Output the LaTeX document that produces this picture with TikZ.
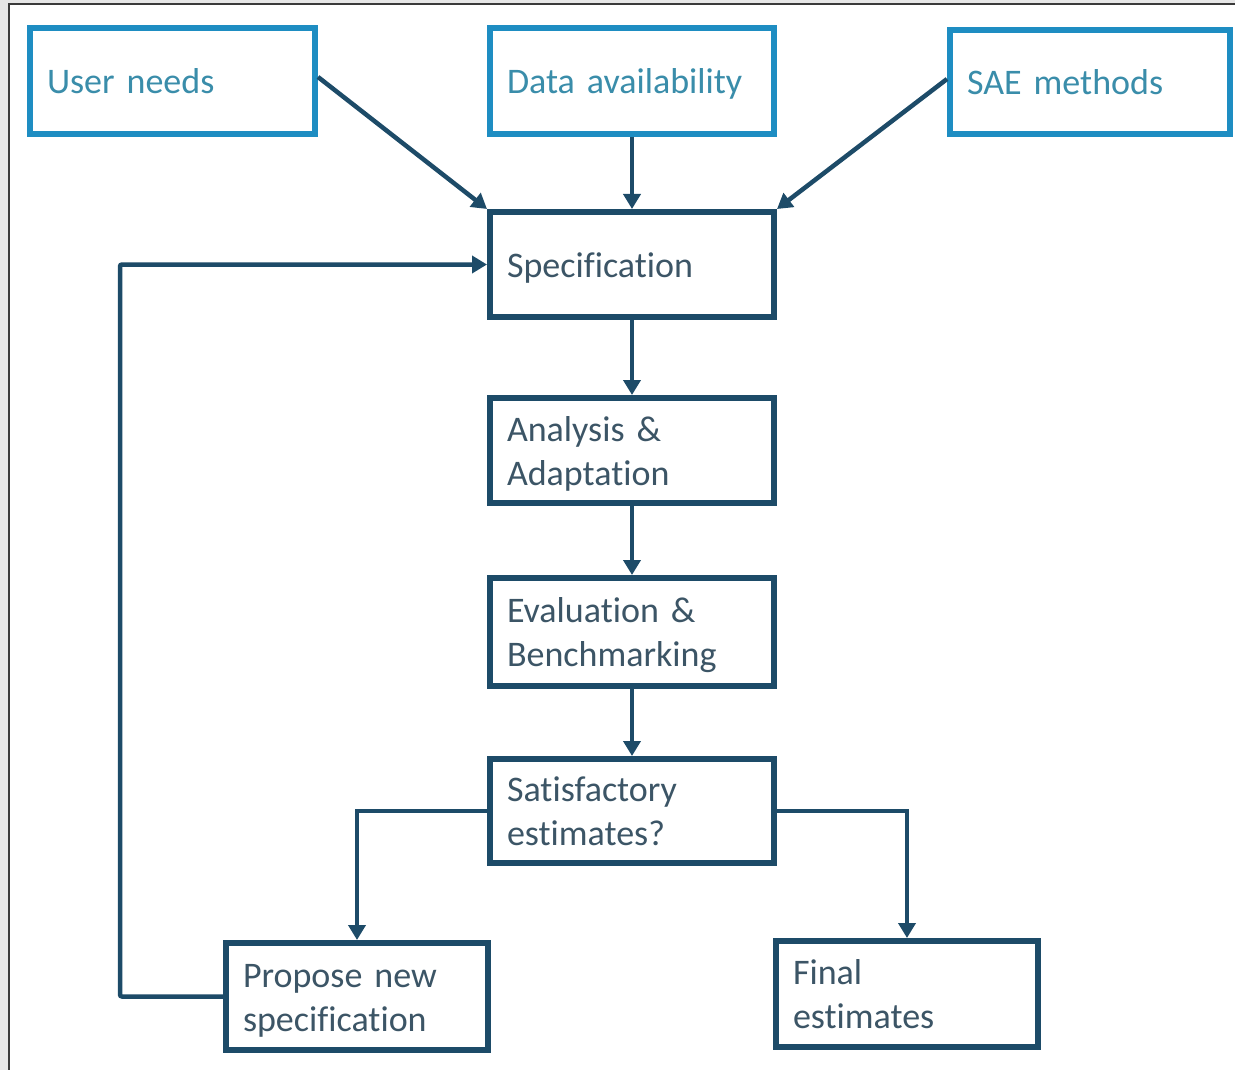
\documentclass[tikz,border=0pt]{standalone}
\usepackage{fontspec}
\setmainfont{Carlito}[Ligatures={NoCommon}]
\usetikzlibrary{arrows.meta,positioning}
\definecolor{cyanbox}{HTML}{1E8DC2}
\definecolor{cyantext}{HTML}{3A8DAA}
\definecolor{darkbox}{HTML}{1D4B68}
\definecolor{darktext}{HTML}{3C5566}
\definecolor{framegrey}{HTML}{E6E6E6}
\definecolor{frameline}{HTML}{3A3A3A}
\newcommand\boxstrut{\rule[-9.5pt]{0pt}{44pt}}
\tikzset{
  box/.style={draw, rectangle, line width=6pt, inner xsep=17pt, inner ysep=0pt,
    align=left, font=\fontsize{36}{44}\selectfont, anchor=center,
    execute at begin node=\boxstrut, execute at end node=\boxstrut},
  inbox/.style={box, draw=cyanbox, text=cyantext},
  stepbox/.style={box, draw=darkbox, text=darktext},
  conn/.style={draw=darkbox, line width=4.5pt, -{Triangle[length=15pt,width=17pt]}}
}
\begin{document}
\begin{tikzpicture}[x=1pt,y=-1pt]
\useasboundingbox (0,0) rectangle (1235,1070);
\fill[framegrey] (0,0) rectangle (1235,1070);
\fill[white] (9,4) rectangle (1235,1070);
\draw[frameline, line width=2.5pt] (9,1070) -- (9,4) -- (1235,4);

% input boxes
\node[inbox, text width=285pt-34pt, minimum height=106pt] (u) at (172.5,81) {User needs};
\node[inbox, text width=284pt-34pt, minimum height=106pt] (d) at (632,81) {Data availability};
\node[inbox, text width=280pt-34pt, minimum height=104pt] (m) at (1090,82) {SAE methods};

% process boxes
\node[stepbox, text width=284pt-34pt, minimum height=105pt] (s) at (632,264.5) {Specification};
\node[stepbox, text width=284pt-34pt, minimum height=105pt] (a) at (632,450.5) {Analysis \&\\Adaptation};
\node[stepbox, text width=284pt-34pt, minimum height=108pt] (e) at (632,632) {Evaluation \&\\Benchmarking};
\node[stepbox, text width=284pt-34pt, minimum height=104pt] (q) at (632,811) {Satisfactory\\estimates?};
\node[stepbox, text width=262pt-34pt, minimum height=107pt] (p) at (357,996.5) {Propose new\\specification};
\node[stepbox, text width=262pt-34pt, minimum height=106pt] (f) at (907,994) {Final\\estimates};

% connectors
\draw[conn] ([yshift=4pt]u.east) -- (s.north west);
\draw[conn] (d.south) -- (s.north);
\draw[conn] ([yshift=3pt]m.west) -- (s.north east);
\draw[conn] (s.south) -- (a.north);
\draw[conn] (a.south) -- (e.north);
\draw[conn] (e.south) -- (q.north);
\draw[conn] (q.west) -| (p.north);
\draw[conn] (q.east) -| (f.north);
\coordinate (loop) at (120,996.5);
\draw[conn, rounded corners=2pt] (p.west) -- (loop) |- (s.west);
\end{tikzpicture}
\end{document}
